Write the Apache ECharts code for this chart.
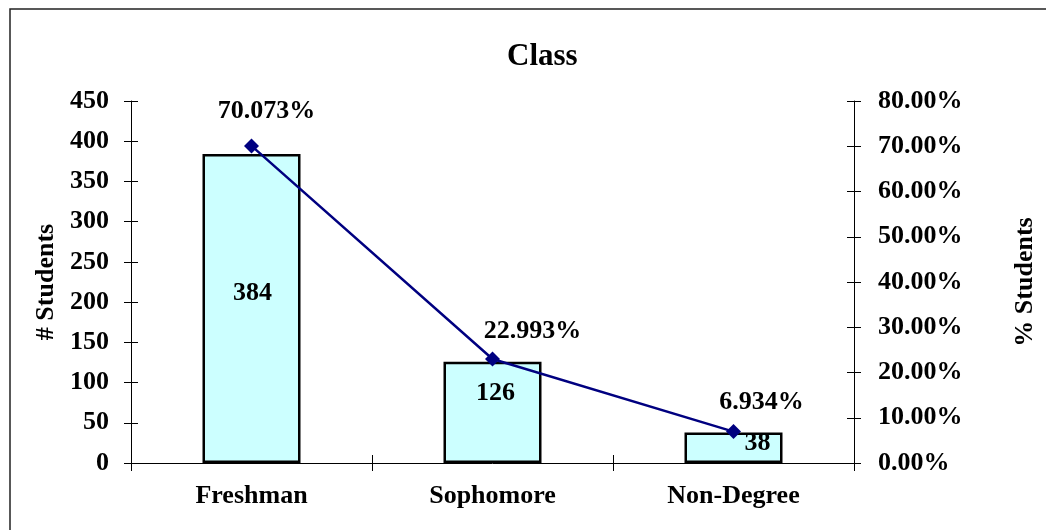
<!DOCTYPE html>
<html>
<head>
<meta charset="utf-8">
<script src="https://cdn.jsdelivr.net/npm/echarts@6/dist/echarts.min.js"></script>
<style>
  html, body { margin: 0; padding: 0; background: #fff; }
  #chart { width: 1046px; height: 530px; }
</style>
</head>
<body>
<div id="chart"></div>
<script>
// data
const categories = ['Freshman', 'Sophomore', 'Non-Degree'];
const students = [384, 126, 38];
const percents = [70.073, 22.993, 6.934];

// label nudges, kept apart from the data
const barLabelOffsets = [[1, -15], [3, -19], [24, -4]];
const lineLabelOffsets = [[15, -9], [40, -2], [28, -4]];

const font = '"Liberation Serif", "Times New Roman", serif';
const txt = { fontFamily: font, fontWeight: 'bold', fontSize: 26, color: '#000' };
const tick = { show: true, length: 7, lineStyle: { color: '#000', width: 1 } };
const tickIn = { show: true, inside: true, length: 7, lineStyle: { color: '#000', width: 1 } };

const myChart = echarts.init(document.getElementById('chart'));

const option = {
  animation: false,
  backgroundColor: '#fff',
  graphic: [{
    type: 'rect',
    shape: { x: 10, y: 9, width: 1100, height: 600 },
    style: { fill: 'none', stroke: '#222', lineWidth: 1.5 }
  }],
  title: {
    text: 'Class',
    left: 502, top: 36,
    textStyle: Object.assign({}, txt, { fontSize: 31 })
  },
  grid: { left: 131, right: 189, top: 101, bottom: 67 },
  xAxis: [{
    type: 'category',
    data: categories,
    axisLine: { show: true, lineStyle: { color: '#000', width: 1 } },
    axisTick: { show: true, interval: 0, length: 8, lineStyle: { color: '#000', width: 1 } },
    axisLabel: Object.assign({}, txt, { margin: 20 })
  }, {
    type: 'category',
    data: categories,
    position: 'bottom',
    axisLine: { show: false },
    axisTick: { show: true, interval: 0, inside: true, length: 8, lineStyle: { color: '#000', width: 1 } },
    axisLabel: { show: false }
  }],
  yAxis: [{
    type: 'value',
    min: 0, max: 450, interval: 50,
    name: '# Students',
    nameLocation: 'middle', nameRotate: 90, nameGap: 72,
    nameTextStyle: txt,
    axisLine: { show: true, lineStyle: { color: '#000' } },
    axisTick: tick,
    axisLabel: Object.assign({}, txt, { margin: 22 }),
    splitLine: { show: false }
  }, {
    type: 'value',
    min: 0, max: 80, interval: 10,
    position: 'right',
    name: '% Students',
    nameLocation: 'middle', nameRotate: 90, nameGap: 158,
    nameTextStyle: txt,
    axisLine: { show: true, lineStyle: { color: '#000' } },
    axisTick: tick,
    axisLabel: Object.assign({}, txt, { margin: 24, formatter: v => v.toFixed(2) + '%' }),
    splitLine: { show: false }
  }, {
    type: 'value',
    min: 0, max: 450, interval: 50,
    position: 'left',
    axisLine: { show: false },
    axisTick: tickIn,
    axisLabel: { show: false },
    splitLine: { show: false }
  }, {
    type: 'value',
    min: 0, max: 80, interval: 10,
    position: 'right',
    axisLine: { show: false },
    axisTick: tickIn,
    axisLabel: { show: false },
    splitLine: { show: false }
  }],
  series: [{
    name: '# Students',
    type: 'bar',
    yAxisIndex: 0,
    barWidth: 98,
    data: students.map((v, i) => ({
      value: v,
      label: { offset: barLabelOffsets[i] }
    })),
    itemStyle: { color: '#CCFFFF', borderColor: '#000', borderWidth: 2.5 },
    label: Object.assign({ show: true, position: 'inside' }, txt)
  }, {
    name: '% Students',
    type: 'line',
    yAxisIndex: 1,
    data: percents.map((v, i) => ({
      value: v,
      label: { offset: lineLabelOffsets[i] }
    })),
    symbol: 'diamond',
    symbolSize: 15,
    lineStyle: { color: '#000080', width: 2.5 },
    itemStyle: { color: '#000080' },
    label: Object.assign({ show: true, position: 'top', formatter: p => p.value.toFixed(3) + '%' }, txt),
    z: 5
  }]
};

myChart.setOption(option);
</script>
</body>
</html>
